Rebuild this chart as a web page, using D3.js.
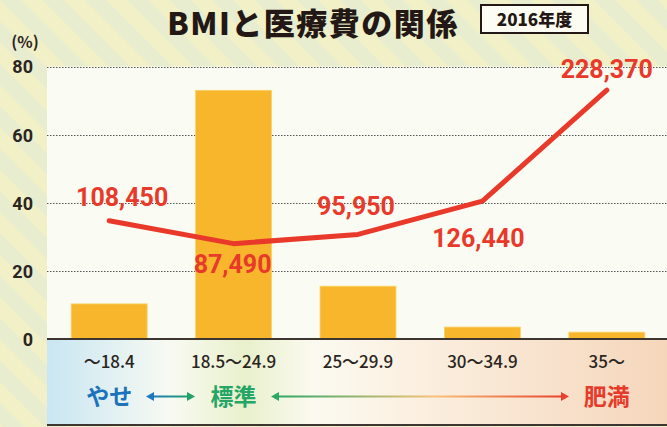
<!DOCTYPE html>
<html>
<head>
<meta charset="utf-8">
<script src="https://cdn.jsdelivr.net/npm/d3@7"></script>
<style>
  body { margin: 0; background: #f3f1c8; }
  svg { display: block; }
  text { font-family: "Noto Sans CJK JP", "Noto Sans", sans-serif; }
  .num { font-family: Roboto, "Liberation Sans", sans-serif; }
</style>
</head>
<body>
<svg id="chart" width="667" height="427"></svg>
<script>
// data
const categories = ["〜18.4", "18.5〜24.9", "25〜29.9", "30〜34.9", "35〜"];
const sharePct = [10.3, 73, 15.5, 3.5, 2];            // bars, %
const costYen = [108450, 87490, 95950, 126440, 228370]; // line, yen
const yTicks = [0, 20, 40, 60, 80];
const bmiGroups = ["やせ", "標準", "肥満"];

const svg = d3.select("#chart"),
  W = +svg.attr("width"), H = +svg.attr("height"),
  plot = {left: 47, right: 669, top: 66.5, bottom: 339};

const defs = svg.append("defs");

// striped background
const pat = defs.append("pattern")
  .attr("id", "stripes").attr("patternUnits", "userSpaceOnUse")
  .attr("width", 30).attr("height", 30)
  .attr("patternTransform", "rotate(-45)");
pat.append("rect").attr("width", 30).attr("height", 30).attr("fill", "#f2f0c6");
pat.append("rect").attr("width", 15).attr("height", 30).attr("fill", "#e8edcf");

const band = defs.append("linearGradient").attr("id", "bandGrad");
[[0, "#c9e6f2"], [0.2, "#f8faf2"], [0.32, "#e9f0cc"], [0.43, "#fbfaf0"], [0.6, "#fbefe0"], [1, "#f5d6bb"]]
  .forEach(s => band.append("stop").attr("offset", s[0]).attr("stop-color", s[1]));

const arrowA = defs.append("linearGradient").attr("id", "arrA");
arrowA.append("stop").attr("offset", 0).attr("stop-color", "#1f78bf");
arrowA.append("stop").attr("offset", 1).attr("stop-color", "#21a06a");
const arrowB = defs.append("linearGradient").attr("id", "arrB");
[[0, "#2aa866"], [0.55, "#f7c27a"], [1, "#e8402c"]]
  .forEach(s => arrowB.append("stop").attr("offset", s[0]).attr("stop-color", s[1]));

svg.append("rect").attr("width", W).attr("height", H).attr("fill", "url(#stripes)");
svg.append("rect").attr("x", plot.left).attr("y", plot.top)
  .attr("width", W - plot.left).attr("height", plot.bottom - plot.top).attr("fill", "#fafbf2");
svg.append("rect").attr("x", plot.left).attr("y", plot.bottom)
  .attr("width", W - plot.left).attr("height", 425 - plot.bottom).attr("fill", "url(#bandGrad)");

// scales
const x = d3.scaleBand().domain(categories).range([plot.left, plot.right])
  .paddingInner(0.39).paddingOuter(0.195);
const y = d3.scaleLinear().domain([0, 80]).range([plot.bottom, plot.top]);
const yCost = d3.scaleLinear().domain([0, 250000]).range([plot.bottom, plot.top]);

// grid
svg.append("g").selectAll("line").data(yTicks.filter(d => d > 0)).join("line")
  .attr("x1", plot.left).attr("x2", W)
  .attr("y1", d => Math.round(y(d)) + 0.5).attr("y2", d => Math.round(y(d)) + 0.5)
  .attr("stroke", "#555").attr("stroke-width", 1).attr("stroke-dasharray", "1.5,1.5");

// y axis labels
const yAxis = svg.append("g").attr("transform", `translate(33,0)`)
  .call(d3.axisLeft(y).tickValues(yTicks).tickSize(0).tickPadding(0));
yAxis.select(".domain").remove();
yAxis.selectAll("text").attr("class", "num").attr("font-size", 18).attr("font-weight", 700)
  .attr("fill", "#2b2522").attr("dy", "0.36em");
svg.append("text").attr("x", 25).attr("y", 48).attr("text-anchor", "middle")
  .attr("font-size", 16).attr("font-weight", 700).attr("fill", "#2b2522").text("(%)");

// bars
svg.append("g").selectAll("rect").data(sharePct).join("rect")
  .attr("x", (d, i) => x(categories[i])).attr("width", x.bandwidth())
  .attr("y", d => y(d)).attr("height", d => plot.bottom - y(d))
  .attr("fill", "#f7b62c").attr("stroke", "#fbcf62").attr("stroke-width", 0.8);

// axis lines
svg.append("line").attr("x1", plot.left).attr("x2", W).attr("y1", plot.bottom).attr("y2", plot.bottom)
  .attr("stroke", "#3d3530").attr("stroke-width", 2);
svg.append("line").attr("x1", plot.left).attr("x2", W).attr("y1", 425).attr("y2", 425)
  .attr("stroke", "#3d3530").attr("stroke-width", 2);

// x labels
const xAxis = svg.append("g").attr("transform", `translate(0,${plot.bottom})`)
  .call(d3.axisBottom(x).tickSize(0).tickPadding(0));
xAxis.select(".domain").remove();
xAxis.selectAll("text").attr("font-size", 17).attr("font-weight", 500)
  .attr("fill", "#2b2522").attr("dy", 0).attr("y", 29);

// cost line
const cx = (d, i) => x(categories[i]) + x.bandwidth() / 2;
const costLine = d3.line().x(cx).y(d => yCost(d));
svg.append("path").datum(costYen).attr("d", costLine)
  .attr("fill", "none").attr("stroke", "#e8392a").attr("stroke-width", 5)
  .attr("stroke-linecap", "round").attr("stroke-linejoin", "round");

const labelOffset = [[13, -15], [-1, 29], [-2, -19], [-4, 46], [0, -12]];
svg.append("g").selectAll("text").data(costYen).join("text")
  .attr("class", "num")
  .attr("x", (d, i) => cx(d, i) + labelOffset[i][0])
  .attr("y", d => yCost(d)).attr("dy", (d, i) => labelOffset[i][1])
  .attr("text-anchor", "middle").attr("font-size", 25).attr("font-weight", 700)
  .attr("fill", "#e8392a")
  .text(d => d3.format(",")(d));

// BMI group row
const groupX = [0, 1, 4].map(i => x(categories[i]) + x.bandwidth() / 2);
const groupColor = ["#1b73bb", "#25a566", "#e63b2b"];
svg.append("g").selectAll("text").data(bmiGroups).join("text")
  .attr("x", (d, i) => groupX[i]).attr("y", 405)
  .attr("text-anchor", "middle").attr("font-size", 23).attr("font-weight", 700)
  .attr("fill", (d, i) => groupColor[i]).text(d => d);

function arrow(x1, x2, yy, grad, c1, c2) {
  const g = svg.append("g");
  g.append("rect").attr("x", x1 + 4).attr("y", yy - 1).attr("width", x2 - x1 - 8).attr("height", 2)
    .attr("fill", `url(#${grad})`);
  g.append("path").attr("d", `M${x1},${yy} l8,-4.5 v9 z`).attr("fill", c1);
  g.append("path").attr("d", `M${x2},${yy} l-8,-4.5 v9 z`).attr("fill", c2);
}
arrow(146, 195, 396.5, "arrA", "#1f78bf", "#21a06a");
arrow(271, 569, 396.5, "arrB", "#2aa866", "#e8402c");

// title
svg.append("text").attr("x", 313).attr("y", 35).attr("text-anchor", "middle")
  .attr("font-size", 31).attr("font-weight", 900).attr("fill", "#231815")
  .attr("letter-spacing", 1.5).text("BMIと医療費の関係");
svg.append("rect").attr("x", 481).attr("y", 5).attr("width", 107).attr("height", 28)
  .attr("fill", "#fdfcf2").attr("stroke", "#231815").attr("stroke-width", 2);
svg.append("text").attr("x", 534.5).attr("y", 26).attr("text-anchor", "middle")
  .attr("font-size", 17).attr("font-weight", 900).attr("fill", "#231815").text("2016年度");
</script>
</body>
</html>
